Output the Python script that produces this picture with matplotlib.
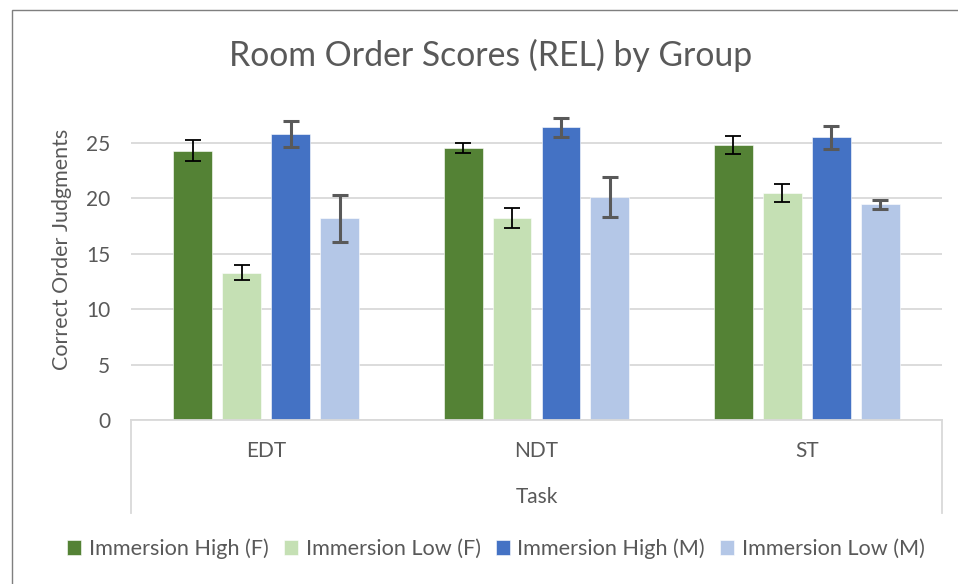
import matplotlib
matplotlib.use("Agg")
import matplotlib.pyplot as plt
from matplotlib.patches import Rectangle
from matplotlib.lines import Line2D
import numpy as np

plt.rcParams['font.family'] = ['Lato', 'DejaVu Sans']

categories = ["EDT", "NDT", "ST"]
series_names = ["Immersion High (F)", "Immersion Low (F)", "Immersion High (M)", "Immersion Low (M)"]
values_high_f = [24.3, 24.55, 24.8]
values_low_f = [13.3, 18.2, 20.5]
values_high_m = [25.8, 26.4, 25.5]
values_low_m = [18.2, 20.1, 19.45]
err_high_f = [0.95, 0.45, 0.83]
err_low_f = [0.7, 0.9, 0.8]
err_high_m = [1.15, 0.9, 1.0]
err_low_m = [2.15, 1.8, 0.45]
y_ticks = [0, 5, 10, 15, 20, 25]

series_vals = [values_high_f, values_low_f, values_high_m, values_low_m]
series_errs = [err_high_f, err_low_f, err_high_m, err_low_m]
colors = ["#548235", "#C5E0B4", "#4472C4", "#B4C7E7"]
err_colors = ["#000000", "#000000", "#595959", "#595959"]
err_lw = [1.3, 1.3, 2.2, 2.2]
text_col = "#595959"

W, H = 958, 584
fig = plt.figure(figsize=(W / 100, H / 100), dpi=100)

# chart border
fig.add_artist(Rectangle((12 / W, -0.1), 1.2, 1 - 10 / H + 0.1, transform=fig.transFigure,
                         fill=False, edgecolor="#7f7f7f", linewidth=1.0))

left, right = 131 / W, 942 / W
y0_px, ytop_px = 420, 420 - 28 * 11.08
ax = fig.add_axes([left, (H - y0_px) / H, right - left, (y0_px - ytop_px) / H])
ax.set_ylim(0, 28)
ax.set_xlim(-0.5, 2.5)

x = np.arange(len(categories))
step = 0.181
width = 0.144
for i, (vals, errs) in enumerate(zip(series_vals, series_errs)):
    pos = x + (i - 1.5) * step
    ax.bar(pos, vals, width=width, color=colors[i], label=series_names[i], zorder=3,
           edgecolor="white", linewidth=0.4)
    ax.errorbar(pos, vals, yerr=errs, fmt="none", ecolor=err_colors[i], elinewidth=err_lw[i],
                capsize=5.5, capthick=err_lw[i], zorder=4)

ax.set_yticks(y_ticks)
ax.set_yticklabels([str(t) for t in y_ticks], fontsize=15, color=text_col)
ax.tick_params(axis="y", length=0, pad=15)
ax.set_xticks([])
ax.yaxis.grid(True, color="#d9d9d9", linewidth=1.3, zorder=0)
for s in ["top", "right", "left"]:
    ax.spines[s].set_visible(False)
ax.spines["bottom"].set_color("#d9d9d9")
ax.spines["bottom"].set_linewidth(1.3)
ax.spines["bottom"].set_zorder(5)

# category box
box_bottom = 513
fig.add_artist(Line2D([left, left], [(H - y0_px) / H, (H - box_bottom) / H], color="#d9d9d9", lw=1.3))
fig.add_artist(Line2D([right, right], [(H - y0_px) / H, (H - box_bottom) / H], color="#d9d9d9", lw=1.3))
for xi, c in zip(x, categories):
    fig.text(left + (right - left) * (xi + 0.5) / 3, (H - 451) / H, c, ha="center", va="center",
             fontsize=15, color=text_col)
fig.text((left + right) / 2, (H - 497) / H, "Task", ha="center", va="center", fontsize=15, color=text_col)

fig.text(62 / W, (H - 249) / H, "Correct Order Judgments", rotation=90, ha="center", va="center",
         fontsize=15.5, color=text_col)
fig.text(491 / W, (H - 55) / H, "Room Order Scores (REL) by Group", ha="center", va="center",
         fontsize=24.3, color=text_col)

handles, labels = ax.get_legend_handles_labels()
leg = fig.legend(handles, labels, loc="center", bbox_to_anchor=(496 / W, (H - 549) / H), ncol=4,
                 frameon=False, fontsize=15.6, handlelength=0.65, handleheight=0.65,
                 handletextpad=0.35, columnspacing=0.7, labelcolor=text_col)

fig.savefig("out.png", dpi=100)
